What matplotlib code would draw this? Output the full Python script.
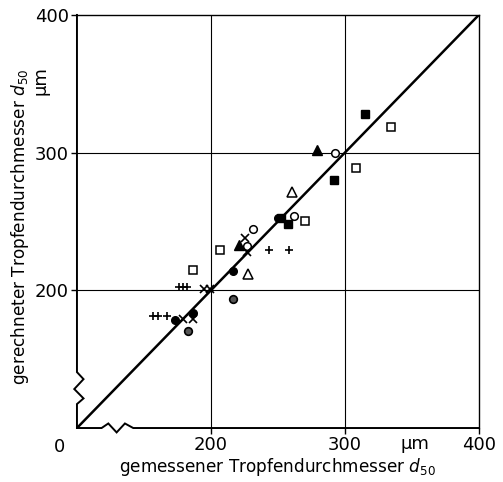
import matplotlib
matplotlib.use("Agg")
import matplotlib.pyplot as plt

# measured vs calculated drop diameter d50 (µm)
filled_sq_x = [292.0, 314.7, 257.7, 252.0]
filled_sq_y = [280.2, 328.3, 248.0, 252.2]
open_sq_x = [186.8, 206.9, 269.9, 308.0, 334.3]
open_sq_y = [214.5, 229.2, 250.2, 288.6, 318.3]
filled_ci_x = [216.2, 250.0, 173.1, 186.3]
filled_ci_y = [213.8, 252.5, 178.5, 183.3]
open_ci_x = [292.3, 261.9, 231.1, 227.1]
open_ci_y = [299.5, 253.8, 244.8, 232.1]
filled_tr_x = [278.9, 221.1]
filled_tr_y = [301.7, 232.6]
open_tr_x = [260.2, 227.6]
open_tr_y = [271.5, 211.6]
cross_x = [225.6, 227.1, 178.9, 186.3, 194.8, 199.3]
cross_y = [238.2, 227.8, 179.0, 179.5, 200.7, 200.7]
plus_x = [243.5, 258.2, 167.4, 156.5, 160.7, 176.3, 179.3, 182.3]
plus_y = [229.0, 229.0, 181.4, 181.4, 181.4, 202.2, 202.2, 202.2]
dotci_x = [216.7, 183.1]
dotci_y = [193.5, 170.1]

ticks = [200, 300, 400]
tick_labels = ["200", "300", "400"]

fig = plt.figure(figsize=(5.03, 4.82), dpi=100)
ax = fig.add_axes([0.153, 0.112, 0.799, 0.857])
ax.set_xlim(100, 400)
ax.set_ylim(100, 400)

for s in ["left", "bottom"]:
    ax.spines[s].set_visible(False)
for s in ["top", "right"]:
    ax.spines[s].set_linewidth(1.0)

# grid
for v in [200, 300]:
    ax.axvline(v, color="black", lw=0.8, zorder=1)
    ax.axhline(v, color="black", lw=0.8, zorder=1)

# broken axes (zigzag spines)
ax.plot([100, 100, 104.9, 98.0, 104.9, 100, 100],
        [400, 140.6, 135.5, 128.3, 121.5, 117.4, 100], color="black", lw=1.4,
        clip_on=False, zorder=3, solid_joinstyle="miter")
ax.plot([100, 118.4, 123.4, 129.6, 135.8, 142, 400],
        [100, 100, 103.3, 96.8, 103.3, 100, 100], color="black", lw=1.4,
        clip_on=False, zorder=3, solid_joinstyle="miter")

# diagonal
ax.plot([100, 400], [100, 400], color="black", lw=1.8, zorder=2)

ms = 5.5
kw = dict(linestyle="none", zorder=4)
ax.plot(filled_sq_x, filled_sq_y, marker="s", ms=ms, mfc="black", mec="black", **kw)
ax.plot(open_sq_x, open_sq_y, marker="s", ms=ms, mfc="white", mec="black", mew=1.1, **kw)
ax.plot(filled_ci_x, filled_ci_y, marker="o", ms=ms, mfc="black", mec="black", **kw)
ax.plot(open_ci_x, open_ci_y, marker="o", ms=ms, mfc="white", mec="black", mew=1.1, **kw)
ax.plot(filled_tr_x, filled_tr_y, marker="^", ms=ms + 1, mfc="black", mec="black", **kw)
ax.plot(open_tr_x, open_tr_y, marker="^", ms=ms + 1, mfc="white", mec="black", mew=1.1, **kw)
ax.plot(cross_x, cross_y, marker="x", ms=ms, mec="black", mew=1.2, **kw)
ax.plot(plus_x, plus_y, marker="+", ms=ms, mec="black", mew=1.2, **kw)
ax.plot(dotci_x, dotci_y, marker="o", ms=ms, mfc="#555555", mec="black", mew=1.2, **kw)

ax.set_xticks(ticks)
ax.set_xticklabels(tick_labels, fontsize=13)
ax.set_yticks(ticks)
ax.set_yticklabels(tick_labels, fontsize=13)
ax.tick_params(direction="out", length=4, width=1, pad=2)

ax.text(-0.03, -0.025, "0", transform=ax.transAxes, ha="right", va="top", fontsize=13)
ax.text(0.84, -0.018, "µm", transform=ax.transAxes, ha="center", va="top", fontsize=13)
ax.text(-0.09, 0.84, "µm", transform=ax.transAxes, ha="center", va="center",
        rotation=90, fontsize=13)

fig.text(0.552, 0.032, "gemessener Tropfendurchmesser $d_{50}$", fontsize=12.2,
         ha="center", va="center")
fig.text(0.04, 0.53, "gerechneter Tropfendurchmesser $d_{50}$", fontsize=12.2,
         ha="center", va="center", rotation=90)

fig.savefig("out.png", dpi=100)
